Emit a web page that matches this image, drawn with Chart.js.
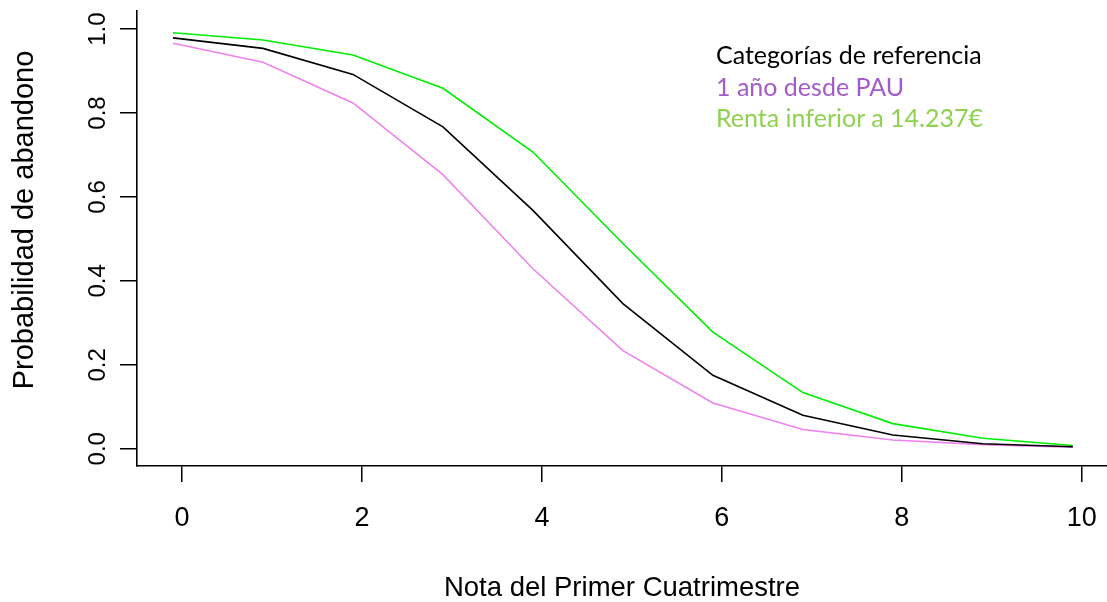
<!DOCTYPE html>
<html>
<head>
<meta charset="utf-8">
<script src="https://cdn.jsdelivr.net/npm/chart.js@4/dist/chart.umd.min.js"></script>
<style>
  body { margin: 0; background: #fff; }
  #wrap { position: relative; width: 1107px; height: 602px; }
  #leyenda {
    position: absolute; left: 716px; top: 39px;
    font-family: Lato, "Open Sans", sans-serif; font-size: 25px; line-height: 31.5px;
  }
</style>
</head>
<body>
<div id="wrap">
  <canvas id="curvas" width="1107" height="602"></canvas>
  <div id="leyenda">
    <div style="color:#000000">Categorías de referencia</div>
    <div style="color:#a35bc9">1 año desde PAU</div>
    <div style="color:#8ed24f">Renta inferior a 14.237€</div>
  </div>
</div>
<script>
// notas (desplazadas 0.1 a la izquierda como en el original)
const notas = [-0.1, 0.9, 1.9, 2.9, 3.9, 4.9, 5.9, 6.9, 7.9, 8.9, 9.9];
// probabilidad de abandono
const refCat = [0.979, 0.954, 0.892, 0.767, 0.568, 0.346, 0.175, 0.080, 0.033, 0.012, 0.005];
const unAnyo = [0.966, 0.921, 0.824, 0.653, 0.429, 0.234, 0.109, 0.046, 0.021, 0.010, 0.004];
const rentaBaja = [0.991, 0.974, 0.938, 0.859, 0.707, 0.489, 0.278, 0.134, 0.060, 0.025, 0.008];

const xTicks = [0, 2, 4, 6, 8, 10];
const yTicks = [0, 0.2, 0.4, 0.6, 0.8, 1.0];

const toPts = arr => arr.map((v, i) => ({x: notas[i], y: v}));

// etiquetas del eje y giradas, como en R
const ejeY = {
  id: 'ejeY',
  afterDraw(chart) {
    const ctx = chart.ctx;
    const y = chart.scales.y;
    ctx.save();
    ctx.fillStyle = '#000';
    ctx.textAlign = 'center';
    ctx.textBaseline = 'middle';
    ctx.font = '24px "Liberation Sans", Arial, sans-serif';
    yTicks.forEach(v => {
      ctx.save();
      ctx.translate(98, y.getPixelForValue(v));
      ctx.rotate(-Math.PI / 2);
      ctx.fillText(v.toFixed(1), 0, 0);
      ctx.restore();
    });
    ctx.font = '29px "Liberation Sans", Arial, sans-serif';
    ctx.textBaseline = 'alphabetic';
    ctx.translate(33, 220);
    ctx.rotate(-Math.PI / 2);
    ctx.fillText('Probabilidad de abandono', 0, 0);
    ctx.restore();
  }
};

new Chart(document.getElementById('curvas'), {
  type: 'line',
  data: {
    datasets: [
      { label: 'Categorías de referencia', data: toPts(refCat), borderColor: '#000000' },
      { label: '1 año desde PAU', data: toPts(unAnyo), borderColor: '#ee82ee' },
      { label: 'Renta inferior a 14.237€', data: toPts(rentaBaja), borderColor: '#00ee00' }
    ]
  },
  options: {
    responsive: false,
    animation: false,
    devicePixelRatio: 1,
    layout: { padding: { top: 11, right: 0, left: 0, bottom: 0 } },
    elements: {
      line: { borderWidth: 1.6, tension: 0, fill: false },
      point: { radius: 0 }
    },
    plugins: { legend: { display: false }, tooltip: { enabled: false } },
    scales: {
      x: {
        type: 'linear', min: -0.5, max: 10.28,
        afterBuildTicks: s => { s.ticks = xTicks.map(v => ({value: v})); },
        afterFit: s => { s.height = 136; s.paddingLeft = 0; s.paddingRight = 0; },
        grid: { drawOnChartArea: false, drawTicks: true, tickLength: 16, color: '#000', lineWidth: 1.5 },
        border: { display: true, color: '#000', width: 1.6 },
        ticks: {
          color: '#000', padding: 20, maxRotation: 0,
          font: { family: '"Liberation Sans", Arial, sans-serif', size: 27 },
          callback: v => String(v)
        },
        title: {
          display: true, text: 'Nota del Primer Cuatrimestre', color: '#000',
          font: { family: '"Liberation Sans", Arial, sans-serif', size: 27.5 },
          padding: { top: 0, bottom: -3 }
        }
      },
      y: {
        type: 'linear', min: -0.041, max: 1.043,
        afterBuildTicks: s => { s.ticks = yTicks.map(v => ({value: v})); },
        afterFit: s => { s.width = 137; },
        grid: { drawOnChartArea: false, drawTicks: true, tickLength: 17, color: '#000', lineWidth: 1.5 },
        border: { display: true, color: '#000', width: 1.6 },
        ticks: { display: false }
      }
    }
  },
  plugins: [ejeY]
});
</script>
</body>
</html>
